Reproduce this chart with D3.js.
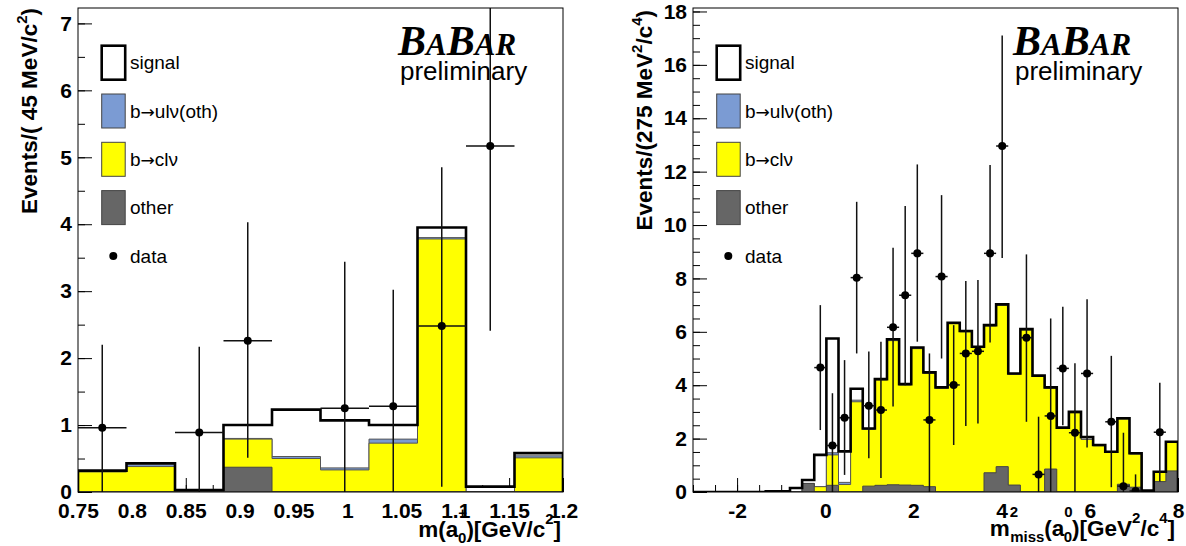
<!DOCTYPE html>
<html>
<head>
<meta charset="utf-8">
<script src="https://cdn.jsdelivr.net/npm/d3@7"></script>
<style>
body { margin: 0; background: #fff; }
</style>
</head>
<body>
<svg id="chart" width="1186" height="546" font-family="Liberation Sans, Arial, Helvetica, sans-serif"></svg>
<script>
// ---- left panel: m(a0), 10 bins of 45 MeV starting at 0.75 GeV
var massLo = 0.75, massBinWidth = 0.045, massYMax = 7.23;
var massOther  = [0, 0, 0, 0.37, 0, 0, 0, 0, 0, 0];
var massBcl    = [0.30, 0.38, 0.01, 0.42, 0.50, 0.33, 0.73, 3.78, 0, 0.51];
var massBul    = [0.01, 0.03, 0, 0.01, 0.03, 0.03, 0.06, 0.02, 0, 0.03];
var massSignal = [0.01, 0.02, 0.02, 0.20, 0.70, 0.71, 0.21, 0.15, 0.08, 0.04];
var massData   = [0.96, null, 0.89, 2.26, null, 1.25, 1.28, 2.48, 5.17, null];
var massErrLo  = [0, null, 0, 0.51, null, 0, 0, 0.08, 2.41, null];
var massErrHi  = [2.2, null, 2.17, 4.03, null, 3.44, 3.02, 4.85, 8.4, null];
var massTicks  = [0.75, 0.8, 0.85, 0.9, 0.95, 1, 1.05, 1.1, 1.15, 1.2];

// ---- right panel: m2miss, 40 bins of 0.275 GeV2 starting at -3
var mmLo = -3, mmBinWidth = 0.275, mmYMax = 18.13;
var mmOther = [0,0,0,0,0,0,0,0,0,0.32, 0,0.25,0,0,0.22,0.25,0.27,0.26,0.25,0.2,
               0,0,0,0,0.72,0.95,0.26,0,0,0.86, 0,0,0,0,0,0.29,0.18,0,0.39,0.79];
var mmBcl   = [0,0,0,0,0,0,0,0,0,0, 0.2,1.14,0.28,3.38,2.13,3.95,5.40,3.75,5.12,4.25,
               3.89,6.30,6.0,5.41,5.5,6.05,4.15,6.07,4.33,3.03, 2.38,2.97,1.97,1.73,1.48,2.44,1.24,0.03,0.35,1.07];
var mmBul   = [0,0,0,0,0,0,0,0,0,0, 0,0.08,0.08,0.06,0.01,0.01,0.02,0.01,0.02,0.01,
               0.01,0.02,0.01,0.01,0.01,0.01,0.01,0.01,0.01,0.01, 0.01,0.01,0.01,0.01,0.01,0.01,0.01,0,0,0];
var mmSignal= [0,0,0,0,0,0,0.03,0.03,0.15,0.13, 1.19,4.28,1.16,0.43,0.02,0.02,0.03,0.02,0.02,0.02,
               0.02,0.02,0.02,0.02,0.02,0.02,0.02,0.02,0.02,0.02, 0.02,0.02,0.08,0.02,0.02,0.02,0.02,0.02,0.02,0.02];
var mmData  = [null,null,null,null,null,null,null,null,null,null, 4.66,1.74,2.78,8.03,3.23,3.07,6.17,7.37,8.94,2.70,
               8.07,4.01,5.19,5.27,8.94,12.96,null,5.78,0.66,2.85, 4.63,2.22,4.44,null,2.63,0.22,0.04,null,2.24,null];
var mmErrLo = [null,null,null,null,null,null,null,null,null,null, 2.32,0,0.64,5.19,1.26,0.52,3.2,4.0,5.63,0,
               5.0,1.76,2.47,2.57,5.6,8.77,null,2.63,0,0, 2.5,0,1.67,null,0.18,0,0,null,0.39,null];
var mmErrHi = [null,null,null,null,null,null,null,null,null,null, 7.0,3.7,4.94,10.87,5.26,5.63,9.15,10.71,12.27,5.19,
               11.12,6.25,7.9,7.94,12.25,17.1,null,8.9,2.82,6.5, 6.94,4.82,7.22,null,5.1,2.22,0.66,null,4.09,null];
var mmTicks = [-2, 0, 2, 4, 6, 8];

// legend entries: text before the arrow, text after it
var legendLabels = [["signal", null], ["b", "ul\u03bd(oth)"], ["b", "cl\u03bd"], ["other", null]];
var legendColors = ["#ffffff", "#7b9bd3", "#ffff00", "#666666"];

var svg = d3.select("#chart");

function stepPath(edges, tops, x, y) {
    var p = "M" + x(edges[0]) + "," + y(0);
    for (var i = 0; i < tops.length; i++) {
        p += "V" + y(tops[i]) + "H" + x(edges[i + 1]);
    }
    return p + "V" + y(0);
}

function styleLabels(s) {
    s.select(".domain").remove();
    s.selectAll("text").attr("font-size", 21).attr("font-weight", "bold").attr("fill", "#000")
        .attr("font-family", null);
}

function drawPanel(o) {
    var x0 = o.x0, w = 485, top = 8, bottom = 492;
    var n = o.other.length;
    var edges = d3.range(n + 1).map(function(i) { return o.lo + i * o.bw; });
    var x = d3.scaleLinear().domain([edges[0], edges[n]]).range([x0, x0 + w]);
    var y = d3.scaleLinear().domain([0, o.ymax]).range([bottom, top]);

    var g = svg.append("g");
    g.append("clipPath").attr("id", "clip" + o.id)
        .append("rect").attr("x", x0).attr("y", top).attr("width", w).attr("height", bottom - top);

    // x axis ticks pointing into the frame (drawn under the histograms)
    var xMinor = d3.range(Math.round((edges[n] - edges[0]) / o.xMinorStep) + 1)
        .map(function(i) { return edges[0] + i * o.xMinorStep; });
    g.append("g").attr("transform", "translate(0," + bottom + ")")
        .call(d3.axisBottom(x).tickValues(xMinor).tickSize(-7).tickSizeOuter(0).tickFormat(""))
        .call(function(s) { s.select(".domain").remove(); });
    g.append("g").attr("transform", "translate(0," + bottom + ")")
        .call(d3.axisBottom(x).tickValues(o.xTicks).tickSize(-14).tickSizeOuter(0).tickPadding(11)
            .tickFormat(function(d) { return String(+d.toFixed(3)); }))
        .call(styleLabels);

    // stacked histograms
    var c1 = o.other.slice();
    var c2 = c1.map(function(v, i) { return v + o.bcl[i]; });
    var c3 = c2.map(function(v, i) { return v + o.bul[i]; });
    var c4 = c3.map(function(v, i) { return v + o.signal[i]; });

    var h = g.append("g").attr("clip-path", "url(#clip" + o.id + ")");
    h.append("path").attr("d", stepPath(edges, c4, x, y) + "Z").attr("fill", "#fff");
    h.append("path").attr("d", stepPath(edges, c3, x, y) + "Z").attr("fill", legendColors[1])
        .attr("stroke", "#555").attr("stroke-width", 1);
    h.append("path").attr("d", stepPath(edges, c2, x, y) + "Z").attr("fill", legendColors[2])
        .attr("stroke", "#555").attr("stroke-width", 1);
    h.append("path").attr("d", stepPath(edges, c1, x, y) + "Z").attr("fill", legendColors[3])
        .attr("stroke", "#444").attr("stroke-width", 1);
    h.append("path").attr("d", stepPath(edges, c4, x, y)).attr("fill", "none")
        .attr("stroke", "#000").attr("stroke-width", 2.6);

    // data points with error bars
    var pts = o.data.map(function(v, i) {
        return {v: v, lo: o.errLo[i], hi: o.errHi[i], a: edges[i], b: edges[i + 1]};
    }).filter(function(d) { return d.v !== null; });
    var dp = h.append("g");
    dp.selectAll("line.ey").data(pts).enter().append("line").attr("class", "ey")
        .attr("x1", function(d) { return x((d.a + d.b) / 2); })
        .attr("x2", function(d) { return x((d.a + d.b) / 2); })
        .attr("y1", function(d) { return y(d.lo); })
        .attr("y2", function(d) { return y(d.hi); })
        .attr("stroke", "#111").attr("stroke-width", 1.5);
    dp.selectAll("line.ex").data(pts).enter().append("line").attr("class", "ex")
        .attr("x1", function(d) { return x(d.a); })
        .attr("x2", function(d) { return x(d.b); })
        .attr("y1", function(d) { return y(d.v); })
        .attr("y2", function(d) { return y(d.v); })
        .attr("stroke", "#111").attr("stroke-width", 1.5);
    dp.selectAll("circle").data(pts).enter().append("circle")
        .attr("cx", function(d) { return x((d.a + d.b) / 2); })
        .attr("cy", function(d) { return y(d.v); })
        .attr("r", 4).attr("fill", "#000");

    // y axis, ticks inward, drawn on top
    var yMinor = d3.range(0, o.ymax, 0.5);
    g.append("g").attr("transform", "translate(" + x0 + ",0)")
        .call(d3.axisLeft(y).tickValues(yMinor).tickSize(-7).tickSizeOuter(0).tickFormat(""))
        .call(function(s) { s.select(".domain").remove(); });
    g.append("g").attr("transform", "translate(" + x0 + ",0)")
        .call(d3.axisLeft(y).tickValues(o.yTicks).tickSize(-14).tickSizeOuter(0).tickPadding(6))
        .call(styleLabels);

    // frame
    g.append("rect").attr("x", x0).attr("y", top).attr("width", w).attr("height", bottom - top)
        .attr("fill", "none").attr("stroke", "#000").attr("stroke-width", 1);

    // legend
    var lg = g.append("g");
    legendLabels.forEach(function(lab, i) {
        var by = 45.7 + i * 48.3;
        lg.append("rect").attr("x", x0 + 23.7).attr("y", by).attr("width", 23.5).attr("height", 34)
            .attr("fill", legendColors[i])
            .attr("stroke", i === 0 ? "#000" : "#444").attr("stroke-width", i === 0 ? 2.6 : 1);
        var t = lg.append("text").attr("x", x0 + 52).attr("y", by + 23.5).attr("font-size", 19);
        t.append("tspan").text(lab[0]);
        if (lab[1]) {
            t.append("tspan").attr("font-family", "DejaVu Sans, sans-serif").attr("font-size", 17)
                .text("\u2192");
            t.append("tspan").text(lab[1]);
        }
    });
    lg.append("circle").attr("cx", x0 + 35.3).attr("cy", 256).attr("r", 4).attr("fill", "#000");
    lg.append("text").attr("x", x0 + 52).attr("y", 262.5).attr("font-size", 19).text("data");

    // BaBar logo
    var logo = g.append("text").attr("x", o.logoX).attr("y", 55)
        .attr("font-family", "Liberation Serif, Times New Roman, serif")
        .attr("font-style", "italic").attr("font-weight", "bold");
    [["B", 42], ["A", 31], ["B", 42], ["AR", 31]].forEach(function(p) {
        logo.append("tspan").attr("font-size", p[1]).text(p[0]);
    });
    g.append("text").attr("x", o.logoX + 2).attr("y", 80).attr("font-size", 26).text("preliminary");

    return g;
}

var left = drawPanel({
    id: "L", x0: 78, lo: massLo, bw: massBinWidth, ymax: massYMax,
    other: massOther, bcl: massBcl, bul: massBul, signal: massSignal,
    data: massData, errLo: massErrLo, errHi: massErrHi,
    xTicks: massTicks, xMinorStep: 0.025, yTicks: d3.range(0, 8), logoX: 398
});
var right = drawPanel({
    id: "R", x0: 693, lo: mmLo, bw: mmBinWidth, ymax: mmYMax,
    other: mmOther, bcl: mmBcl, bul: mmBul, signal: mmSignal,
    data: mmData, errLo: mmErrLo, errHi: mmErrHi,
    xTicks: mmTicks, xMinorStep: 0.5, yTicks: d3.range(0, 19, 2), logoX: 1013
});

// axis titles
var tSize = 22.5, sSize = 15;
var t1 = svg.append("text").attr("transform", "translate(37,8) rotate(-90)")
    .attr("text-anchor", "end").attr("font-size", tSize).attr("font-weight", "bold");
t1.append("tspan").text("Events/( 45 MeV/c");
t1.append("tspan").attr("font-size", sSize).attr("dy", -10).text("2");
t1.append("tspan").attr("dy", 10).text(")");

var t2 = svg.append("text").attr("transform", "translate(652,10) rotate(-90)")
    .attr("text-anchor", "end").attr("font-size", tSize).attr("font-weight", "bold");
t2.append("tspan").text("Events/(275 MeV");
t2.append("tspan").attr("font-size", sSize).attr("dy", -10).text("2");
t2.append("tspan").attr("dy", 10).text("/c");
t2.append("tspan").attr("font-size", sSize).attr("dy", -10).text("4");
t2.append("tspan").attr("dy", 10).text(")");

var t3 = svg.append("text").attr("x", 561).attr("y", 537)
    .attr("text-anchor", "end").attr("font-size", tSize).attr("font-weight", "bold");
t3.append("tspan").text("m(a");
t3.append("tspan").attr("font-size", sSize).attr("dy", -19).text("+");
t3.append("tspan").attr("font-size", sSize).attr("dx", -9).attr("dy", 25).text("0");
t3.append("tspan").attr("dy", -6).text(")[GeV/c");
t3.append("tspan").attr("font-size", sSize).attr("dy", -13).text("2");
t3.append("tspan").attr("dy", 13).text("]");

var t4 = svg.append("text").attr("x", 1175).attr("y", 536)
    .attr("text-anchor", "end").attr("font-size", tSize).attr("font-weight", "bold");
t4.append("tspan").text("m");
t4.append("tspan").attr("font-size", sSize).attr("dy", -19).text("2");
t4.append("tspan").attr("font-size", sSize).attr("dx", -8).attr("dy", 25).text("miss");
t4.append("tspan").attr("dy", -6).text("(a");
t4.append("tspan").attr("font-size", sSize).attr("dy", -19).text("0");
t4.append("tspan").attr("font-size", sSize).attr("dx", -9).attr("dy", 25).text("0");
t4.append("tspan").attr("dy", -6).text(")[GeV");
t4.append("tspan").attr("font-size", sSize).attr("dy", -13).text("2");
t4.append("tspan").attr("dy", 13).text("/c");
t4.append("tspan").attr("font-size", sSize).attr("dy", -13).text("4");
t4.append("tspan").attr("dy", 13).text("]");
</script>
</body>
</html>
